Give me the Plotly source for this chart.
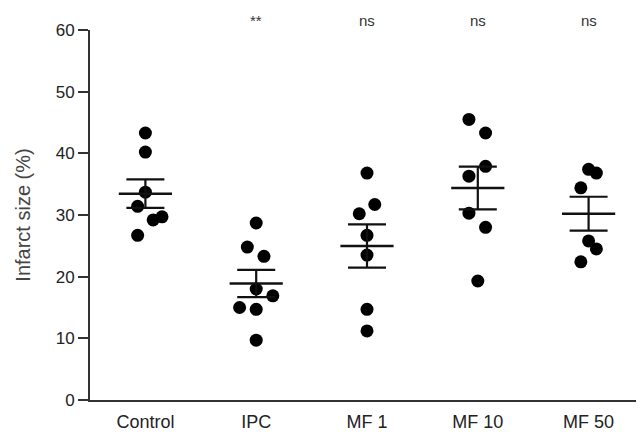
import numpy as np
import plotly.graph_objects as go

categories = ["Control", "IPC", "MF 1", "MF 10", "MF 50"]

control = [43.3, 40.2, 33.7, 31.4, 29.7, 29.2, 26.7]
ipc = [28.7, 24.8, 23.3, 18.0, 16.9, 15.0, 14.7, 9.7]
mf1 = [36.8, 31.7, 30.2, 26.7, 23.5, 14.7, 11.2]
mf10 = [45.5, 43.3, 37.9, 36.3, 30.3, 28.0, 19.3]
mf50 = [37.4, 36.8, 34.4, 25.8, 24.5, 22.4]

# horizontal scatter spread of the dots (in category units)
jitter_control = [0, 0, 0, -0.07, 0.15, 0.07, -0.07]
jitter_ipc = [0, -0.08, 0.07, 0, 0.15, -0.15, 0, 0]
jitter_mf1 = [0, 0.07, -0.07, 0, 0, 0, 0]
jitter_mf10 = [-0.08, 0.07, 0.07, -0.08, -0.08, 0.07, 0]
jitter_mf50 = [0, 0.07, -0.07, 0, 0.07, -0.07]

significance = ["", "**", "ns", "ns", "ns"]

groups = [control, ipc, mf1, mf10, mf50]
jitters = [jitter_control, jitter_ipc, jitter_mf1, jitter_mf10, jitter_mf50]

FONT = "Liberation Sans, Arial, sans-serif"

fig = go.Figure()

means = [float(np.mean(g)) for g in groups]
sems = [float(np.std(g, ddof=1) / np.sqrt(len(g))) for g in groups]

for i, (g, j) in enumerate(zip(groups, jitters)):
    fig.add_trace(go.Scatter(
        x=[i + d for d in j], y=g, mode="markers",
        marker=dict(color="black", size=13, line=dict(width=0)),
        showlegend=False, hoverinfo="y",
    ))

fig.add_trace(go.Scatter(
    x=list(range(len(categories))), y=means, mode="markers",
    marker=dict(symbol="line-ew", size=38, line=dict(color="#111", width=2.5)),
    error_y=dict(type="data", array=sems, visible=True, color="#111",
                 thickness=2.2, width=19),
    showlegend=False,
))

for i, s in enumerate(significance):
    if s:
        fig.add_annotation(x=i, y=1.025, xref="x", yref="paper", text=s,
                           showarrow=False, yanchor="middle",
                           font=dict(family=FONT, size=15, color="#333"))

# the page body adds an 8px offset, so the figure is drawn 8px smaller
fig.update_layout(
    width=636, height=425,
    margin=dict(l=82, r=0, t=22, b=33),
    plot_bgcolor="white", paper_bgcolor="white",
    font=dict(family=FONT, color="#222"),
)
fig.update_xaxes(
    range=[-0.5, 4.5], tickmode="array", tickvals=list(range(len(categories))),
    ticktext=categories, showgrid=False, zeroline=False,
    showline=True, linecolor="#333", linewidth=2, ticks="",
    tickfont=dict(size=18, color="#222"), ticklabelstandoff=4,
)
fig.update_yaxes(
    range=[0, 60], tickvals=[0, 10, 20, 30, 40, 50, 60],
    showgrid=False, zeroline=False, showline=True, linecolor="#333", linewidth=2,
    ticks="outside", ticklen=10, tickwidth=2, tickcolor="#333",
    tickfont=dict(size=17, color="#222"),
    title=dict(text="Infarct size (%)", font=dict(size=20, color="#444"), standoff=20),
)

fig.write_html("out.html")
